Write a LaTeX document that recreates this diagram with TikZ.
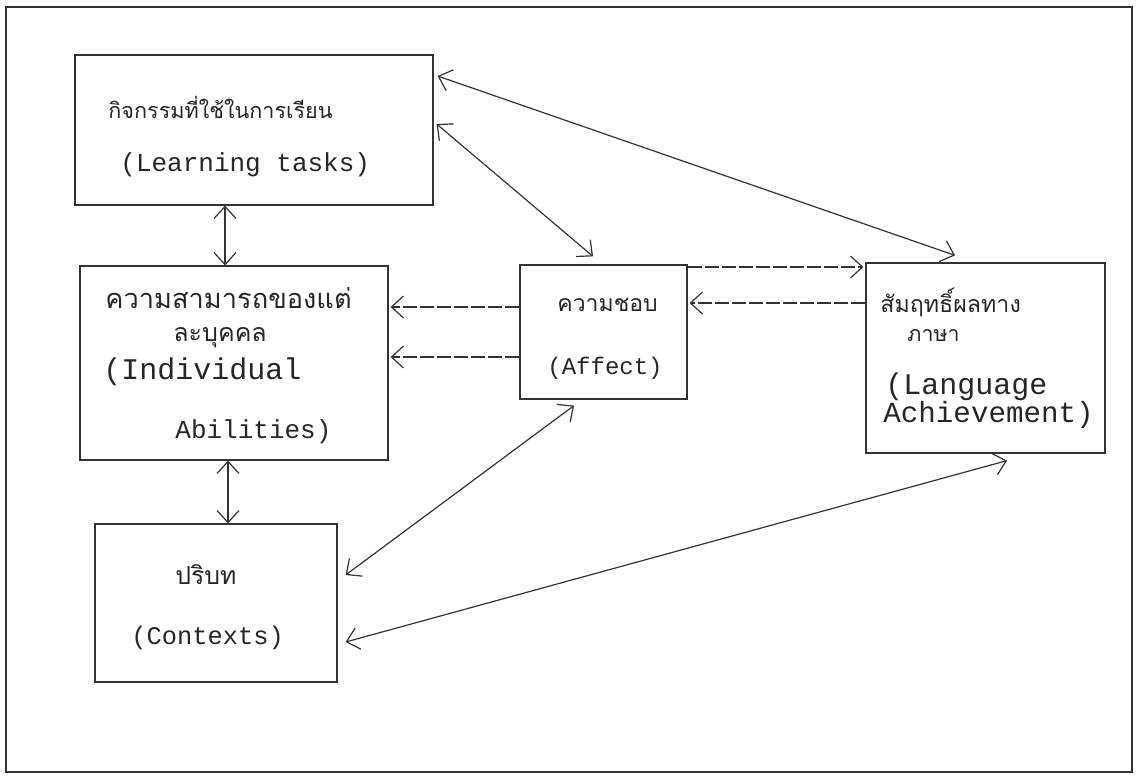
\documentclass[tikz,border=0pt]{standalone}
\usepackage{fontspec}
\newfontfamily\monof{Liberation Mono}
\newfontfamily\thaif[Script=Thai]{Loma}
\usetikzlibrary{arrows.meta}
\newcommand\fsz[1]{\fontsize{#1}{#1}\selectfont}
\tikzset{
  ink/.style={draw=black!80, line width=0.6pt},
  box/.style={ink, rectangle, inner sep=0pt},
  en/.style={anchor=west, inner sep=0pt, text=black!85, font=\monof\fsz{13pt}},
  th/.style={anchor=west, inner sep=0pt, text=black!85, font=\thaif\fsz{13pt}},
  tip/.tip={Straight Barb[length=6pt,width=11pt]},
  dbl/.style={ink, tip-tip},
  sarr/.style={ink, -tip},
  darr/.style={ink, -tip, dash pattern=on 7pt off 1.5pt},
}
\begin{document}
\begin{tikzpicture}[x=0.5pt,y=-0.5pt]
\useasboundingbox (0,0) rectangle (1138,775);
\draw[ink] (6,7) rectangle (1132,772);
% boxes
\node[box, minimum width=179pt, minimum height=75pt]   (b1) at (254,130) {};
\node[box, minimum width=154pt, minimum height=97pt]   (b2) at (234,363) {};
\node[box, minimum width=121pt, minimum height=79pt]   (b3) at (216,603) {};
\node[box, minimum width=83.5pt, minimum height=67pt]  (b4) at (603.5,332) {};
\node[box, minimum width=119.5pt, minimum height=95pt] (b5) at (985.5,358) {};
% texts
\node[th, font=\thaif\fsz{10.8pt}] (t1a) at (108,107) {กิจกรรมที่ใช้ในการเรียน};
\node[en] (t1b) at (120,165) {(Learning tasks)};
\node[th, align=left, font=\thaif\fsz{13.6pt}] (t2a) at (105,318)
  {ความสามารถของแต่\\[3pt]\hspace*{34pt}{\fsz{12.5pt}ละบุคคล}};
\node[en, font=\monof\fsz{15pt}] (t2c) at (103,372) {(Individual};
\node[en] (t2d) at (175,432) {Abilities)};
\node[th, font=\thaif\fsz{12.4pt}] (t3a) at (175,575) {ปริบท};
\node[en, font=\monof\fsz{12.7pt}] (t3b) at (131,638) {(Contexts)};
\node[th, font=\thaif\fsz{11.5pt}] (t4a) at (557,305) {ความชอบ};
\node[en, font=\monof\fsz{12pt}] (t4b) at (547,368) {(Affect)};
\node[th, align=left, font=\thaif\fsz{11.6pt}] (t5a) at (880,315)
  {สัมฤทธิ์ผลทาง\\[3pt]\hspace*{13.5pt}{\fsz{10.7pt}ภาษา}};
\node[en, font=\monof\fsz{15pt}] (t5c) at (885,387) {(Language};
\node[en, font=\monof\fsz{14.6pt}] (t5d) at (883,415) {Achievement)};
% connectors
\draw[dbl] (b1.south -| 225,0) -- (b2.north -| 225,0);
\draw[dbl] (b2.south -| 228,0) -- (b3.north -| 228,0);
\draw[darr] (b4.west |- 0,307) -- ([xshift=1pt]b2.east |- 0,307);
\draw[darr] (b4.west |- 0,357) -- ([xshift=1pt]b2.east |- 0,357);
\draw[darr] (b4.east |- 0,267) -- ([xshift=-1pt]b5.west |- 0,267);
\draw[darr] (b5.west |- 0,303) -- ([xshift=1pt]b4.east |- 0,303);
\draw[dbl] ([xshift=2pt]b1.east |- 0,76) -- ([yshift=3.5pt]b5.north -| 955,0);
\draw[dbl] ([xshift=1.5pt]b1.east |- 0,124) -- ([yshift=4pt]b4.north -| 593,0);
\draw[dbl] ([yshift=-3pt]b4.south -| 574,0) -- ([xshift=4pt]b3.east |- 0,575);
\draw[dbl] ([xshift=4pt]b3.east |- 0,642) -- ([yshift=-3.5pt]b5.south -| 1007,0);
\end{tikzpicture}
\end{document}
